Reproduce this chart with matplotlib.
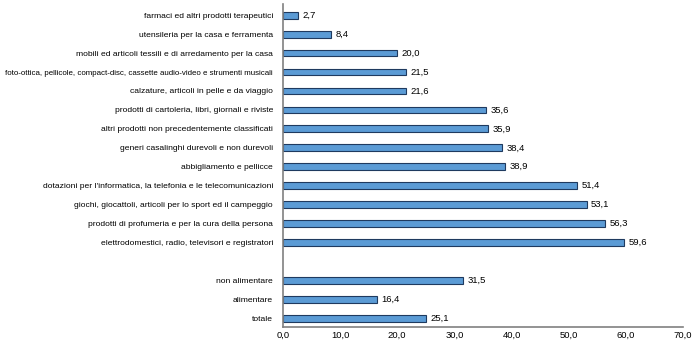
import matplotlib.pyplot as plt
import numpy as np

# categories top to bottom, None marks the empty slot
categorie = [
    "farmaci ed altri prodotti terapeutici",
    "utensileria per la casa e ferramenta",
    "mobili ed articoli tessili e di arredamento per la casa",
    "foto-ottica, pellicole, compact-disc, cassette audio-video e strumenti musicali",
    "calzature, articoli in pelle e da viaggio",
    "prodotti di cartoleria, libri, giornali e riviste",
    "altri prodotti non precedentemente classificati",
    "generi casalinghi durevoli e non durevoli",
    "abbigliamento e pellicce",
    "dotazioni per l'informatica, la telefonia e le telecomunicazioni",
    "giochi, giocattoli, articoli per lo sport ed il campeggio",
    "prodotti di profumeria e per la cura della persona",
    "elettrodomestici, radio, televisori e registratori",
    None,
    "non alimentare",
    "alimentare",
    "totale",
]
valori = [2.7, 8.4, 20.0, 21.5, 21.6, 35.6, 35.9, 38.4, 38.9, 51.4, 53.1, 56.3, 59.6,
          None, 31.5, 16.4, 25.1]
xticks = [0, 10, 20, 30, 40, 50, 60, 70]

plt.rcParams['font.family'] = ['Liberation Sans Narrow', 'Liberation Sans', 'DejaVu Sans']

fig = plt.figure(figsize=(7, 3.46), dpi=100)
ax = fig.add_axes([0.404, 0.055, 0.572, 0.933])

n = len(categorie)
pos = np.arange(n)[::-1]
for p, cat, v in zip(pos, categorie, valori):
    if cat is None:
        continue
    ax.barh(p, v, height=0.36, color='#5B9BD5', edgecolor='#1F3A5F', linewidth=0.8)
    ax.text(v + 0.8, p, f"{v:.1f}".replace('.', ','), va='center', ha='left', fontsize=6.8)

ax.set_yticks([p for p, c in zip(pos, categorie) if c is not None])
ax.set_yticklabels([c for c in categorie if c is not None], fontsize=6.1)
ax.set_xticks(xticks)
ax.set_xticklabels([f"{t:.1f}".replace('.', ',') for t in xticks], fontsize=6.8)
ax.set_xlim(0, 70)
ax.set_ylim(-0.45, 16.58)
ax.tick_params(length=0)
ax.tick_params(axis='y', pad=7)
ax.tick_params(axis='x', pad=3)
for s in ['top', 'right']:
    ax.spines[s].set_visible(False)
for s in ['left', 'bottom']:
    ax.spines[s].set_color('#808080')
    ax.spines[s].set_linewidth(1.2)

fig.canvas.draw()
# shrink any label that would run past the left edge
for lab in ax.get_yticklabels():
    bb = lab.get_window_extent()
    if bb.x0 < 6:
        lab.set_fontsize(6.1 * (bb.x1 - 6) / bb.width)

fig.savefig('out.png', dpi=100)
